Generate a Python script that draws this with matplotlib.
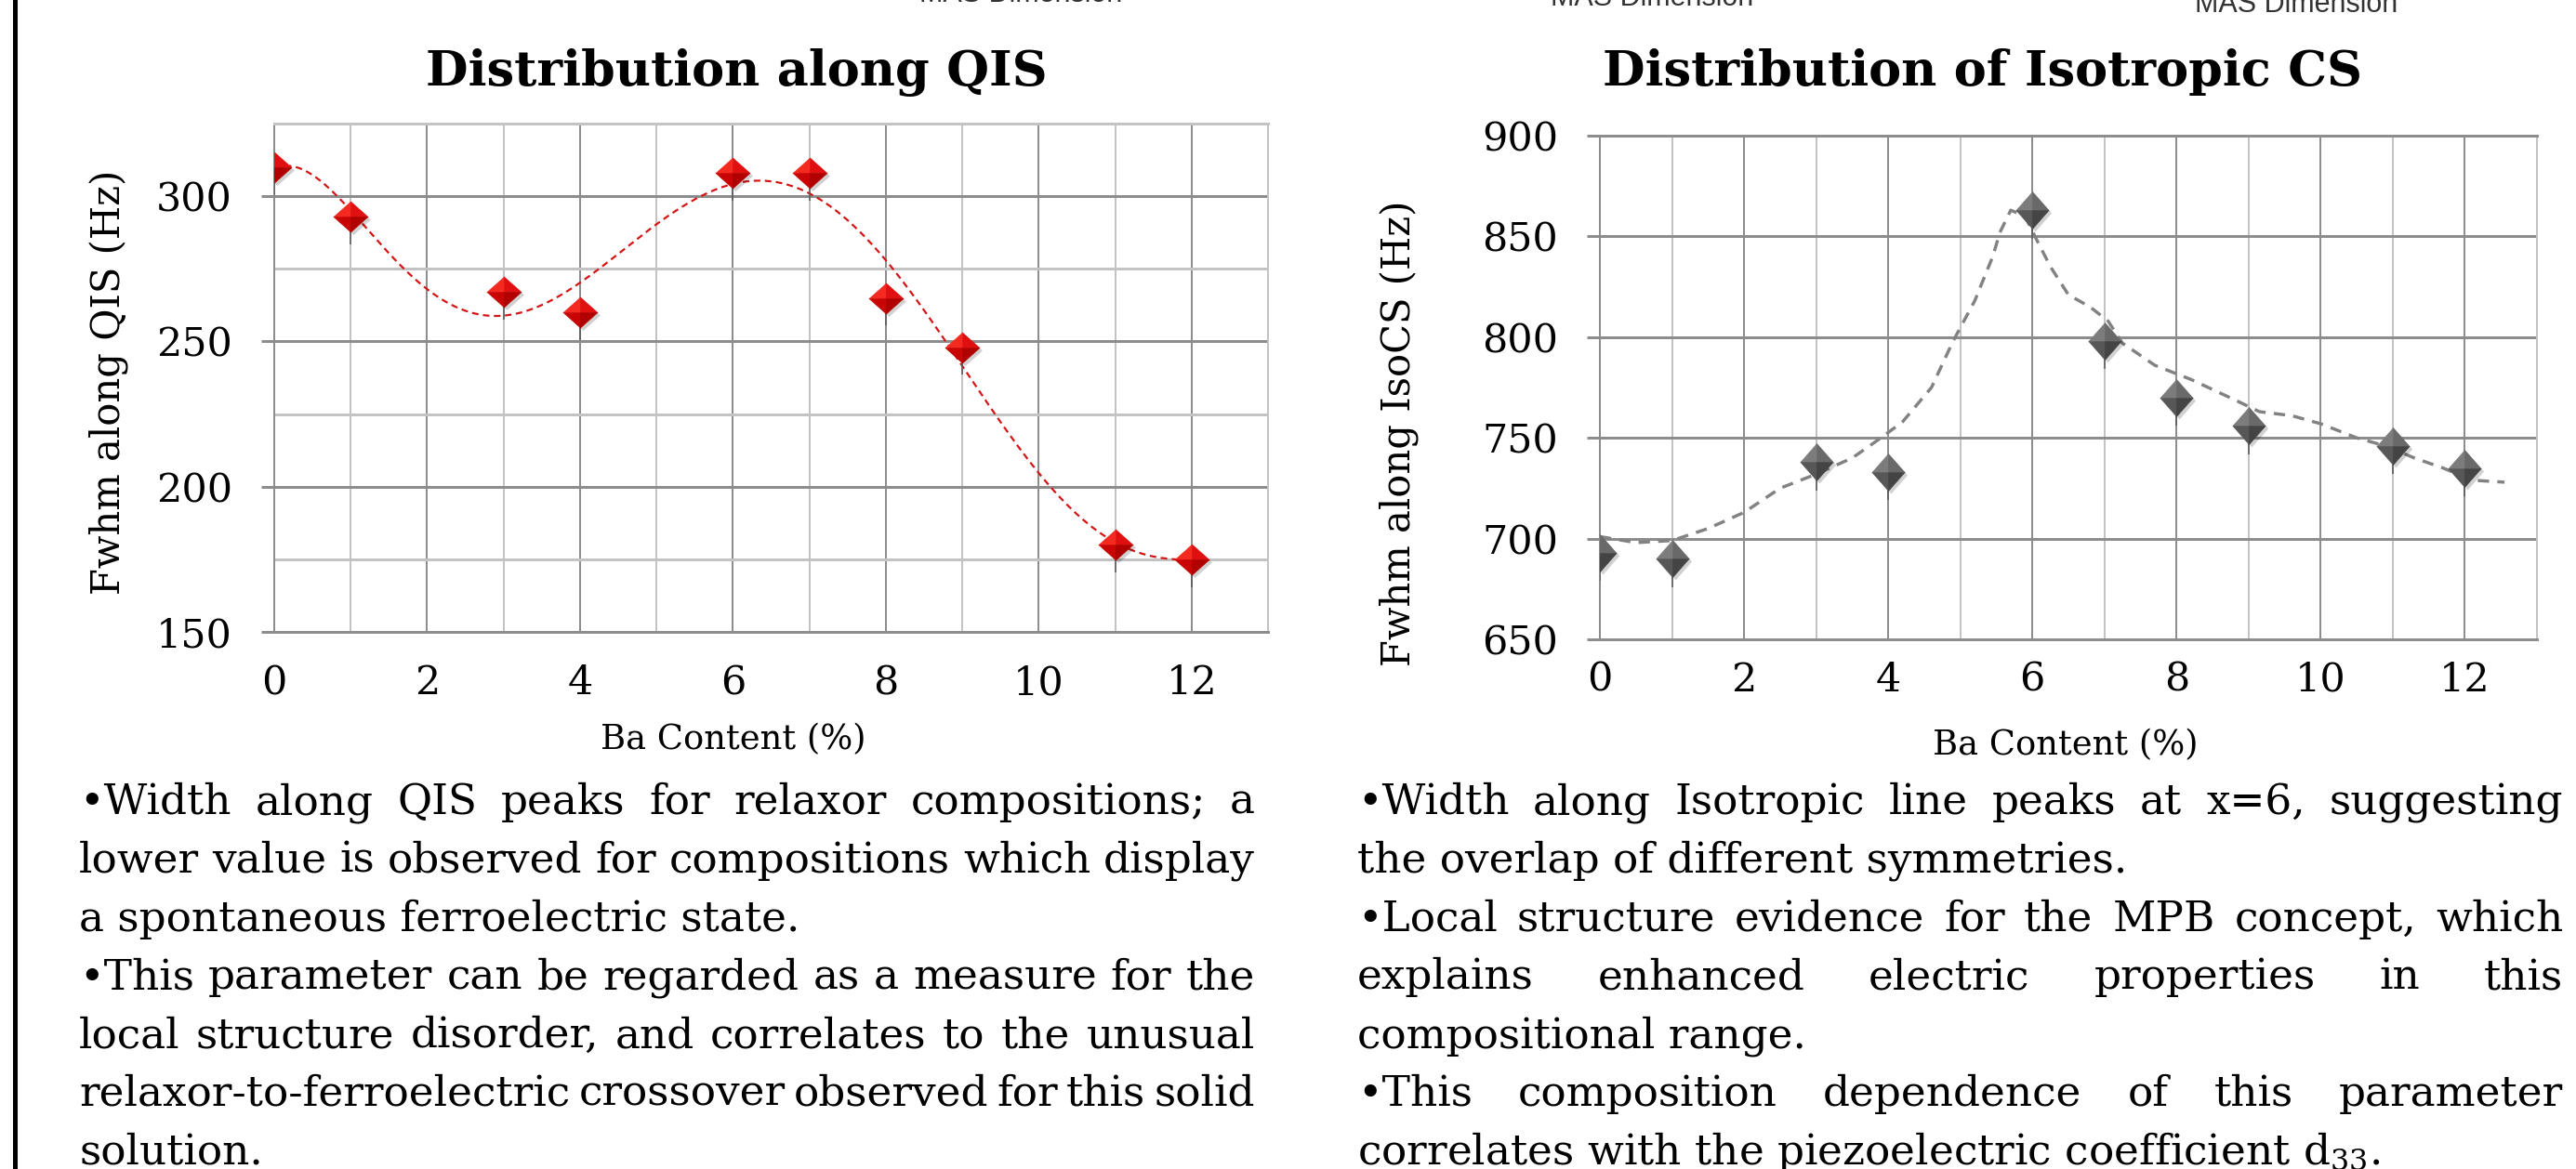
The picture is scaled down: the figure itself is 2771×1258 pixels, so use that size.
import numpy as np
import matplotlib
matplotlib.use("Agg")
import matplotlib.pyplot as plt
import matplotlib.transforms as mtransforms
from matplotlib.path import Path
from matplotlib.lines import Line2D

# ---------------------------------------------------------------- data
ba_qis = [0, 1, 3, 4, 6, 7, 8, 9, 11, 12]
fwhm_qis = [310, 293, 267, 260, 308, 308, 265, 248, 180, 175]

ba_iso = [0, 1, 3, 4, 6, 7, 8, 9, 11, 12]
fwhm_iso = [693, 690, 738, 733, 863, 798, 770, 756, 746, 735]

# guide line drawn through the isotropic-CS widths
iso_guide_x = [0.0, 0.5, 1.0, 1.5, 2.0, 2.5, 3.0, 3.5, 3.9, 4.2, 4.6, 4.9, 5.2,
               5.45, 5.55, 5.7, 5.9, 6.05, 6.25, 6.5, 6.8, 7.05, 7.25, 7.7,
               8.2, 8.8, 9.15, 9.6, 10.0, 10.5, 10.9, 11.3, 11.7, 12.1, 12.55]
iso_guide_y = [701, 698, 699, 705, 713, 725, 732, 740, 750, 758, 775, 798, 818,
               840, 852, 863, 860, 849, 835, 821, 815, 808, 797, 786,
               779, 769, 763, 761, 757, 750, 746, 740, 735, 729, 728]

x_ticks = [0, 2, 4, 6, 8, 10, 12]
qis_ticks = [150, 200, 250, 300]
iso_ticks = [650, 700, 750, 800, 850, 900]

title_qis = "Distribution along QIS"
title_iso = "Distribution of Isotropic CS"
xlabel = "Ba Content (%)"
ylabel_qis = "Fwhm along QIS (Hz)"
ylabel_iso = "Fwhm along IsoCS (Hz)"

notes_qis = [
    ("\u2022Width along QIS peaks for relaxor compositions;  a", True),
    ("lower value is observed for compositions which display", True),
    ("a spontaneous ferroelectric state.", False),
    ("\u2022This parameter can be regarded as a measure for the", True),
    ("local structure disorder, and correlates to the unusual", True),
    ("relaxor-to-ferroelectric crossover observed for this solid", True),
    ("solution.", False),
]
notes_iso = [
    ("\u2022Width along Isotropic line peaks at x=6, suggesting", True),
    ("the overlap of different symmetries.", False),
    ("\u2022Local structure evidence for the MPB concept, which", True),
    ("explains enhanced electric properties in this", True),
    ("compositional range.", False),
    ("\u2022This composition dependence of this parameter", True),
    ("correlates with the piezoelectric coefficient d$_{33}$.", False),
]

# ---------------------------------------------------------------- figure
W, H, DPI = 2771, 1258, 100
plt.rcParams["font.family"] = ["DejaVu Serif"]
plt.rcParams["mathtext.fontset"] = "dejavuserif"

fig = plt.figure(figsize=(W / DPI, H / DPI), dpi=DPI)
fig.patch.set_facecolor("white")
renderer = fig.canvas.get_renderer()


def fx(px):
    return px / W


def fy(py):
    return 1 - py / H


def text_width(s, size, **kw):
    t = fig.text(0, 0, s, fontsize=size, **kw)
    w = t.get_window_extent(renderer).width
    t.remove()
    return w


def fit_size(s, target_px, **kw):
    return 20.0 * target_px / text_width(s, 20.0, **kw)


DARK = "#8d8d8d"
LIGHT = "#c3c3c3"
PT = 72.0 / DPI  # points per pixel

title_size = fit_size(title_qis, 670, fontweight="bold")
tick_size = fit_size("300", 82)
label_size = fit_size(ylabel_qis, 456)
xlabel_size = fit_size(xlabel, 285)
body_size = fit_size(notes_qis[1][0], 1265)


def style_axes(ax, ylim, ymajor, yminor, xpad):
    ax.set_xlim(0, 13)
    ax.set_ylim(*ylim)
    ax.set_xticks(x_ticks)
    ax.set_xticks([1, 3, 5, 7, 9, 11, 13], minor=True)
    ax.set_yticks(ymajor)
    ax.set_yticks(yminor, minor=True)
    ax.set_axisbelow(True)
    ax.grid(which="major", axis="x", color=DARK, lw=2.0 * PT)
    ax.grid(which="minor", axis="x", color=LIGHT, lw=2.0 * PT)
    ax.grid(which="major", axis="y", color=DARK, lw=3.0 * PT)
    ax.grid(which="minor", axis="y", color=LIGHT, lw=3.0 * PT)
    ax.spines["left"].set_color(DARK)
    ax.spines["left"].set_linewidth(2.0 * PT)
    ax.spines["bottom"].set_color(DARK)
    ax.spines["bottom"].set_linewidth(3.0 * PT)
    ax.spines["right"].set_color(LIGHT)
    ax.spines["right"].set_linewidth(2.0 * PT)
    ax.spines["top"].set_linewidth(3.0 * PT)
    ax.tick_params(axis="x", which="both", length=0, pad=xpad * PT,
                   labelsize=tick_size)
    ax.tick_params(axis="y", which="major", length=14 * PT, width=3.0 * PT,
                   color=DARK, direction="out", pad=31 * PT,
                   labelsize=tick_size)
    ax.tick_params(axis="y", which="minor", length=0)


def facet_markers(w, h):
    c = [Path.MOVETO, Path.LINETO, Path.LINETO, Path.CLOSEPOLY]
    return [
        Path([(0, 0), (-w, 0), (0, h), (0, 0)], c),   # upper left
        Path([(0, 0), (0, h), (w, 0), (0, 0)], c),    # upper right
        Path([(0, 0), (-w, 0), (0, -h), (0, 0)], c),  # lower left
        Path([(0, 0), (w, 0), (0, -h), (0, 0)], c),   # lower right
    ]


def diamond_path(w, h):
    return Path([(-w, 0), (0, h), (w, 0), (0, -h), (-w, 0)],
                [Path.MOVETO, Path.LINETO, Path.LINETO, Path.LINETO,
                 Path.CLOSEPOLY])


def draw_diamonds(ax, x, y, colors, w, h, size_px, stem):
    ms = size_px * PT
    # thin stem under each marker
    ax.errorbar(x, y, yerr=[np.full(len(y), stem), np.zeros(len(y))],
                fmt="none", ecolor="#5a5a5a", elinewidth=1.6 * PT,
                capsize=0, zorder=4)
    shadow = mtransforms.offset_copy(ax.transData, fig=fig, x=3, y=-3,
                                     units="dots")
    ax.plot(x, y, ls="none", marker=diamond_path(w, h), ms=ms,
            mfc="#000000", mec="none", alpha=0.18, transform=shadow,
            zorder=4.5)
    for path, col in zip(facet_markers(w, h), colors):
        ax.plot(x, y, ls="none", marker=path, ms=ms, mfc=col, mec=col,
                mew=0.4, zorder=5)


# ---------------------------------------------------------------- left chart
ax1 = fig.add_axes([fx(295), fy(680), (1364 - 295) / W, (680 - 133) / H])
style_axes(ax1, (150, 325), qis_ticks, [175, 225, 275, 325], 34)
ax1.spines["top"].set_color(LIGHT)

coef = np.polyfit(ba_qis, fwhm_qis, 6)
xs = np.linspace(min(ba_qis), max(ba_qis), 400)
ax1.plot(xs, np.polyval(coef, xs), color="#d41414", lw=2.2 * PT,
         ls=(0, (3.2, 2.2)), zorder=3)
draw_diamonds(ax1, ba_qis, fwhm_qis,
              ["#f42a20", "#e01010", "#c80404", "#b00000"],
              1.0, 0.89, 37, 9.5)

# ---------------------------------------------------------------- right chart
ax2 = fig.add_axes([fx(1721), fy(688), (2729 - 1721) / W, (688 - 146) / H])
style_axes(ax2, (650, 900), iso_ticks, [], 23)
ax2.spines["top"].set_color(DARK)

ax2.plot(iso_guide_x, iso_guide_y, color="#828282", lw=3.4 * PT,
         ls=(0, (3.6, 2.6)), zorder=3)
draw_diamonds(ax2, ba_iso, fwhm_iso,
              ["#7c7c7c", "#696969", "#575757", "#444444"],
              0.88, 1.0, 40, 14)

# ---------------------------------------------------------------- titles / labels
fig.text(fx(792), fy(92), title_qis, ha="center", va="baseline",
         fontsize=title_size, fontweight="bold")
fig.text(fx(2133), fy(92), title_iso, ha="center", va="baseline",
         fontsize=title_size, fontweight="bold")

fig.text(fx(117), fy(411), ylabel_qis, rotation=90, ha="center",
         va="center", fontsize=label_size)
fig.text(fx(1505), fy(466), ylabel_iso, rotation=90, ha="center",
         va="center", fontsize=label_size)

fig.text(fx(789), fy(806), xlabel, ha="center", va="baseline",
         fontsize=xlabel_size)
fig.text(fx(2222), fy(812), xlabel, ha="center", va="baseline",
         fontsize=xlabel_size)

# clipped captions running off the top edge
for cx, base in [(1098, 2), (1777, 6), (2470, 13)]:
    fig.text(fx(cx), fy(base), "MAS Dimension", ha="center",
             va="baseline", fontsize=22, family="Liberation Sans",
             color="#333333")

# frame rule on the left edge
fig.add_artist(Line2D([fx(16), fx(16)], [0, 1], color="black",
                      lw=5 * PT, transform=fig.transFigure))


# ---------------------------------------------------------------- notes
def draw_block(lines, x0, x1, y0, step, size):
    for i, (line, justify) in enumerate(lines):
        y = fy(y0 + i * step)
        if not justify:
            fig.text(fx(x0), y, line, ha="left", va="baseline",
                     fontsize=size)
            continue
        words = line.split()
        widths = [text_width(w, size) for w in words]
        gap = (x1 - x0 - sum(widths)) / (len(words) - 1)
        pos = x0
        for w, wd in zip(words, widths):
            fig.text(fx(pos), y, w, ha="left", va="baseline", fontsize=size)
            pos += wd + gap


draw_block(notes_qis, 85, 1350, 876, 62.8, body_size)
draw_block(notes_iso, 1460, 2757, 876, 62.8, body_size)

fig.savefig("out.png", dpi=DPI, facecolor="white")
